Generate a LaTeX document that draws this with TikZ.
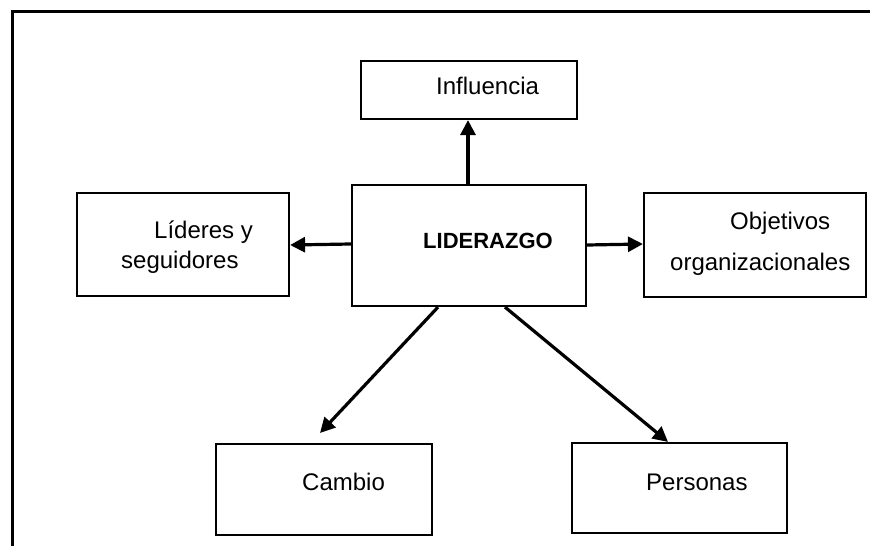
\documentclass[tikz,border=0pt]{standalone}
\usepackage{fontspec}
\setmainfont{Liberation Sans}
\usetikzlibrary{arrows.meta}
\begin{document}
\begin{tikzpicture}[x=1pt,y=-1pt,
  box/.style={draw=black,line width=2.2pt,minimum width=#1,inner sep=0pt},
  lbl/.style={anchor=base west,inner sep=0pt,font=\fontsize{24}{28}\selectfont},
  arr/.style={line width=3.2pt,-{Triangle[length=15pt,width=15pt]}}]
\useasboundingbox (0,0) rectangle (870,546);
\fill[white] (0,0) rectangle (870,546);
% frame
\draw[line width=3pt] (870,11) -- (12,11) -- (12,546);
% boxes
\node[box=234pt,minimum height=121pt] (lid) at (469,245.5) {};
\node[box=216pt,minimum height=58pt] (inf) at (469,90) {};
\node[box=212pt,minimum height=103pt] (lys) at (183,244.5) {};
\node[box=222pt,minimum height=104pt] (obj) at (755,245) {};
\node[box=216pt,minimum height=91pt] (cam) at (324,489.5) {};
\node[box=215pt,minimum height=90pt] (per) at (679.5,488) {};
% labels
\node[lbl,font=\fontsize{22}{26}\selectfont\bfseries] (tlid) at (423,248) {LIDERAZGO};
\node[lbl] (tinf) at (436,94) {Influencia};
\node[lbl] (tlys1) at (154,238) {Líderes y};
\node[lbl] (tlys2) at (121,268) {seguidores};
\node[lbl] (tobj1) at (730,229) {Objetivos};
\node[lbl] (tobj2) at (670,270) {organizacionales};
\node[lbl] (tcam) at (302,490) {Cambio};
\node[lbl] (tper) at (646,490) {Personas};
% connectors
\coordinate (camtip) at (320,433);
\draw[arr] ([xshift=-1pt]lid.north) -- ([xshift=-1pt]inf.south);
\draw[arr] ([yshift=1.5pt]lid.west) -- ([yshift=-0.5pt]lys.east);
\draw[arr] ([yshift=0.5pt]lid.east) -- ([yshift=1pt]obj.west);
\draw[arr] ([xshift=-31pt]lid.south) -- (camtip);
\draw[arr] ([xshift=36pt]lid.south) -- ([xshift=-11.5pt]per.north);
\end{tikzpicture}
\end{document}
